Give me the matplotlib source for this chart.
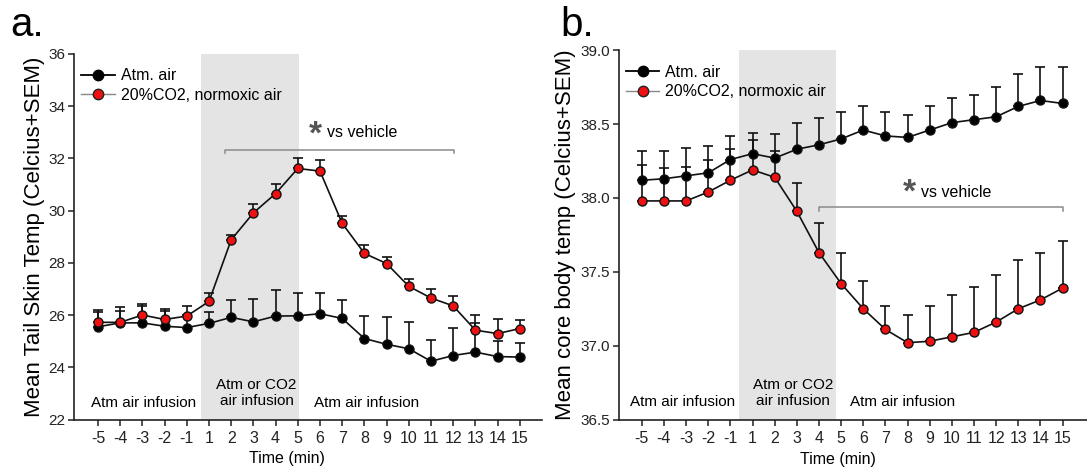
import matplotlib
matplotlib.use('Agg')
import matplotlib.pyplot as plt
from matplotlib.lines import Line2D
import numpy as np

plt.rcParams['font.family'] = ['Liberation Sans', 'DejaVu Sans']

time_labels = ['-5', '-4', '-3', '-2', '-1', '1', '2', '3', '4', '5', '6', '7',
               '8', '9', '10', '11', '12', '13', '14', '15']

# panel a: tail skin temp
tail_atm = [25.55, 25.70, 25.70, 25.57, 25.52, 25.68, 25.91, 25.74, 25.96, 25.97,
            26.05, 25.87, 25.10, 24.88, 24.71, 24.23, 24.45, 24.58, 24.41, 24.39]
tail_atm_top = [26.13, 26.17, 26.35, 26.17, 26.00, 26.13, 26.58, 26.60, 26.97, 26.84,
                26.84, 26.58, 25.96, 25.94, 25.74, 25.03, 25.51, 25.68, 25.00, 24.93]
tail_co2 = [25.72, 25.72, 26.00, 25.83, 25.96, 26.52, 28.88, 29.91, 30.65, 31.61,
            31.51, 29.51, 28.36, 27.97, 27.10, 26.65, 26.35, 25.42, 25.29, 25.48]
tail_co2_top = [26.19, 26.32, 26.43, 26.23, 26.35, 26.86, 29.06, 30.26, 31.03, 32.00,
                31.94, 29.78, 28.68, 28.22, 27.38, 26.99, 26.71, 26.00, 25.83, 25.81]

# panel b: core body temp
core_atm = [38.12, 38.13, 38.15, 38.17, 38.26, 38.30, 38.27, 38.33, 38.36, 38.40,
            38.46, 38.42, 38.41, 38.46, 38.51, 38.53, 38.55, 38.62, 38.66, 38.64]
core_atm_top = [38.32, 38.32, 38.34, 38.35, 38.42, 38.44, 38.43, 38.51, 38.54, 38.58,
                38.62, 38.58, 38.56, 38.62, 38.68, 38.70, 38.75, 38.84, 38.89, 38.89]
core_co2 = [37.98, 37.98, 37.98, 38.04, 38.12, 38.19, 38.14, 37.91, 37.63, 37.42,
            37.25, 37.11, 37.02, 37.03, 37.06, 37.09, 37.16, 37.25, 37.31, 37.39]
core_co2_top = [38.22, 38.20, 38.21, 38.26, 38.33, 38.39, 38.32, 38.10, 37.83, 37.63,
                37.44, 37.27, 37.21, 37.27, 37.34, 37.40, 37.48, 37.58, 37.63, 37.71]

x = np.arange(len(time_labels))

fig = plt.figure(figsize=(10.87, 4.69), dpi=100)
ax1 = fig.add_axes([0.0681, 0.1055, 0.4305, 0.7798])
ax2 = fig.add_axes([0.569, 0.1055, 0.431, 0.7873])


def draw_panel(ax, atm, atm_top, co2, co2_top, ylim, yticks, shade):
    ax.axvspan(shade[0], shade[1], color='#e4e4e4', lw=0, zorder=0)
    atm = np.array(atm)
    co2 = np.array(co2)
    ax.errorbar(x, atm, yerr=[np.zeros(len(x)), np.array(atm_top) - atm], fmt='none',
                ecolor='#111111', elinewidth=1.2, capsize=3.6, capthick=1.2, zorder=2)
    ax.errorbar(x, co2, yerr=[np.zeros(len(x)), np.array(co2_top) - co2], fmt='none',
                ecolor='#111111', elinewidth=1.2, capsize=3.6, capthick=1.2, zorder=2)
    ax.plot(x, atm, '-o', color='#111111', lw=1.2, ms=6.5, mfc='black',
            mec='#111111', zorder=3)
    ax.plot(x, co2, '-o', color='#111111', lw=1.2, ms=6.5, mfc='#ee1111',
            mec='#111111', mew=1.0, zorder=4)
    ax.set_xlim(-1.08, 20.0)
    ax.set_ylim(*ylim)
    ax.set_yticks(yticks)
    ax.set_xticks(x)
    ax.set_xticklabels(time_labels)
    for s in ['top', 'right']:
        ax.spines[s].set_visible(False)
    for s in ['left', 'bottom']:
        ax.spines[s].set_linewidth(1.2)
        ax.spines[s].set_color('#222222')
    ax.tick_params(axis='x', length=4, width=1.1, labelsize=11.5, pad=4, colors='#222222')
    ax.tick_params(axis='y', length=4, width=1.1, labelsize=11, pad=2, colors='#222222')
    ax.set_xlabel('Time (min)', fontsize=11.5, labelpad=1)
    handles = [Line2D([], [], color='black', lw=1.3, marker='o', ms=7.5, mfc='black',
                      mec='black'),
               Line2D([], [], color='#888888', lw=1.0, marker='o', ms=7.5,
                      mfc='#ee1111', mec='#222222')]
    ax.legend(handles, ['Atm. air', '20%CO2, normoxic air'], loc='upper left',
              bbox_to_anchor=(-0.015, 1.0), frameon=False, fontsize=11.5,
              handlelength=2.1, handletextpad=0.35, labelspacing=0.3)


draw_panel(ax1, tail_atm, tail_atm_top, tail_co2, tail_co2_top, (22, 36),
           [22, 24, 26, 28, 30, 32, 34, 36], (4.65, 9.05))
ax1.set_ylabel('Mean Tail Skin Temp (Celcius+SEM)', fontsize=16, labelpad=3)
ax1.xaxis.set_label_coords(0.454, -0.087)

draw_panel(ax2, core_atm, core_atm_top, core_co2, core_co2_top, (36.5, 39.0),
           [36.5, 37.0, 37.5, 38.0, 38.5, 39.0], (4.39, 8.75))
ax2.set_yticklabels(['36.5', '37.0', '37.5', '38.0', '38.5', '39.0'])
ax2.set_xlim(-1.05, 20.1)
ax2.set_ylabel('Mean core body temp (Celcius+SEM)', fontsize=16, labelpad=3)
ax2.xaxis.set_label_coords(0.4685, -0.087)


def bracket(ax, x0, x1, y, h):
    ax.plot([x0, x0, x1, x1], [y - h, y, y, y - h], color='#8a8a8a', lw=1.1, zorder=1)


# significance brackets
bracket(ax1, 5.72, 16.05, 32.32, 0.12)
ax1.text(9.78, 32.9, '*', fontsize=24, fontweight='bold', color='#555555',
         ha='center', va='center')
ax1.text(10.3, 32.97, 'vs vehicle', fontsize=11.5, ha='left', va='center')

bracket(ax2, 7.98, 19.0, 37.94, 0.025)
ax2.text(12.07, 38.03, '*', fontsize=24, fontweight='bold', color='#555555',
         ha='center', va='center')
ax2.text(12.6, 38.04, 'vs vehicle', fontsize=11.5, ha='left', va='center')

# phase labels
ax1.text(2.05, 22.65, 'Atm air infusion', fontsize=11, ha='center', va='center')
ax1.text(7.14, 23.0, 'Atm or CO2\nair infusion', fontsize=11, ha='center',
         va='center', linespacing=1.2)
ax1.text(12.1, 22.65, 'Atm air infusion', fontsize=11, ha='center', va='center')

ax2.text(1.83, 36.62, 'Atm air infusion', fontsize=11, ha='center', va='center')
ax2.text(6.82, 36.68, 'Atm or CO2\nair infusion', fontsize=11, ha='center',
         va='center', linespacing=1.2)
ax2.text(11.76, 36.62, 'Atm air infusion', fontsize=11, ha='center', va='center')

fig.text(10 / 1087, 1 - 36 / 469, 'a.', fontsize=29, ha='left', va='baseline')
fig.text(560 / 1087, 1 - 36 / 469, 'b.', fontsize=29, ha='left', va='baseline')

fig.savefig('out.png', dpi=100)
